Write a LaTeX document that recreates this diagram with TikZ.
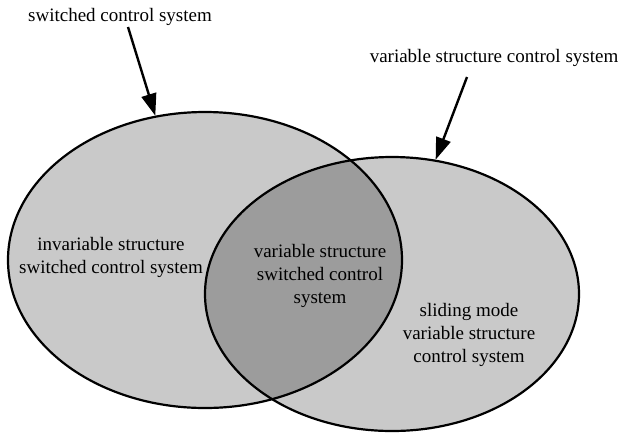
\documentclass[tikz,border=0pt]{standalone}
\usepackage{fontspec}
\setmainfont{Liberation Serif}
\usetikzlibrary{arrows.meta,shapes.geometric}
\definecolor{setlight}{RGB}{201,201,201}
\definecolor{setdark}{RGB}{156,156,156}
\begin{document}
\begin{tikzpicture}[x=1pt,y=-1pt,
  setellipse/.style={ellipse,draw=black,line width=2.2pt,inner sep=0pt},
  lbl/.style={font=\fontsize{19}{23}\selectfont,align=center,inner sep=0pt},
  pointer/.style={line width=2.4pt,-{Triangle[length=22pt,width=15pt]}}]
\useasboundingbox (0,0) rectangle (621,432);
% fills
\fill[setlight] (205,260) ellipse [x radius=197, y radius=148];
\fill[setlight] (392,294) ellipse [x radius=187, y radius=137];
\begin{scope}
  \clip (205,260) ellipse [x radius=197, y radius=148];
  \fill[setdark] (392,294) ellipse [x radius=187, y radius=137];
\end{scope}
% outlines
\node[setellipse,minimum width=394pt,minimum height=296pt] (L) at (205,260) {};
\node[setellipse,minimum width=374pt,minimum height=274pt] (R) at (392,294) {};
% labels
\node[lbl] (tl) at (120,17) {switched control system};
\node[lbl] (tr) at (494,58) {variable structure control system};
\node[lbl] (inl) at (111,257) {invariable structure\\switched control system};
\node[lbl] (inm) at (320,276) {variable structure\\switched control\\system};
\node[lbl] (inr) at (469,335) {sliding mode\\variable structure\\control system};
% arrows
\coordinate (a1) at (128,27);
\coordinate (a2) at (467,77);
\draw[pointer] (a1) -- (L.109);
\draw[pointer] (a2) -- (R.72);
\end{tikzpicture}
\end{document}
